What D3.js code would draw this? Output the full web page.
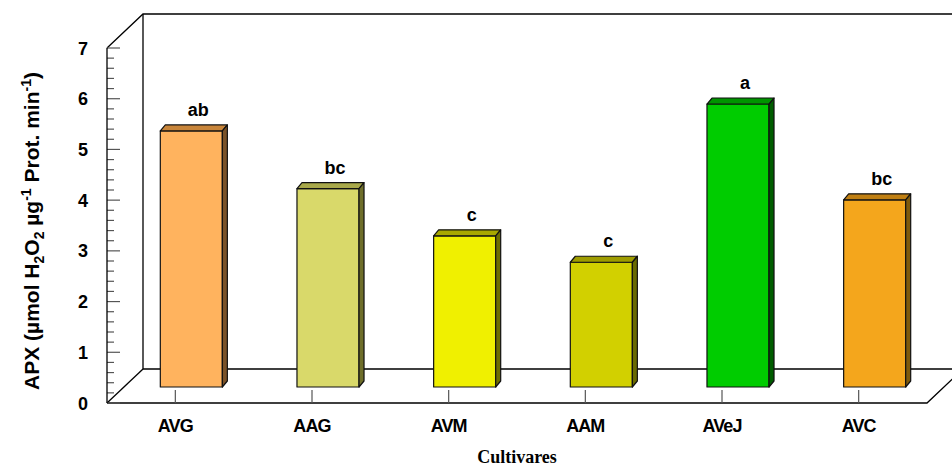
<!DOCTYPE html>
<html>
<head>
<meta charset="utf-8">
<script src="https://cdn.jsdelivr.net/npm/d3@7"></script>
<style>
  body { margin: 0; background: #fff; }
  svg { display: block; }
  text { font-family: "Liberation Sans", Arial, sans-serif; font-weight: bold; fill: #000; }
</style>
</head>
<body>
<div id="chart"></div>
<script>
const cultivares = ["AVG", "AAG", "AVM", "AAM", "AVeJ", "AVC"];
const apx        = [5.05, 3.91, 2.98, 2.46, 5.58, 3.69];
const letras     = ["ab", "bc", "c", "c", "a", "bc"];
const frontColors = ["#FFB35E", "#D9D96A", "#F0F000", "#D2D000", "#00CC00", "#F4A61C"];
const topColors   = ["#C8853A", "#A9A94A", "#A8A800", "#9E9C00", "#009400", "#C07F12"];
const sideColors  = ["#7A5228", "#6E6E2A", "#6E6E00", "#6A6A00", "#005C00", "#7E5A0C"];
const yTicks = [0, 1, 2, 3, 4, 5, 6, 7];

const WIDTH = 952, HEIGHT = 467;
const LEFT = 107, RIGHT = 927, BOTTOM = 403, TOP = 48;
const DX = 36, DY = -34;      // depth of the box
const BDX = 16, BDY = -16;    // bars sit inside the box
const SDX = 5, SDY = -6;      // bar thickness

const svg = d3.select("#chart").append("svg")
  .attr("width", WIDTH)
  .attr("height", HEIGHT);

const x = d3.scaleBand()
  .domain(cultivares)
  .range([LEFT, RIGHT])
  .paddingInner(0.546)
  .paddingOuter(0.273);

const y = d3.scaleLinear()
  .domain([0, 7])
  .range([BOTTOM, TOP]);

// box: back wall + floor
const box = svg.append("g").attr("fill", "none").attr("stroke", "#000").attr("stroke-width", 1.3);
box.append("path")
  .attr("d", `M${LEFT},${y(7)} L${LEFT + DX},${y(7) + DY} L${WIDTH + 2},${y(7) + DY}`);
box.append("path")
  .attr("d", `M${LEFT + DX},${y(7) + DY} L${LEFT + DX},${y(0) + DY} L${WIDTH + 2},${y(0) + DY}`);
box.append("path")
  .attr("d", `M${LEFT},${y(0)} L${LEFT + DX},${y(0) + DY}`);
box.append("path")
  .attr("d", `M${LEFT},${y(0)} L${RIGHT},${y(0)} L${RIGHT + DX},${y(0) + DY}`);

// y axis with minor ticks
const minor = d3.range(0, 7.001, 0.2);
svg.append("g").selectAll("line")
  .data(minor)
  .join("line")
  .attr("x1", LEFT)
  .attr("x2", d => Math.abs(d - Math.round(d)) < 1e-6 ? LEFT + 13 : LEFT + 7)
  .attr("y1", d => y(d))
  .attr("y2", d => y(d))
  .attr("stroke", "#555")
  .attr("stroke-width", 1.2);

svg.append("line")
  .attr("x1", LEFT).attr("x2", LEFT)
  .attr("y1", y(0)).attr("y2", y(7))
  .attr("stroke", "#000").attr("stroke-width", 1.3);

svg.append("g").selectAll("text")
  .data(yTicks)
  .join("text")
  .attr("x", 88)
  .attr("y", d => y(d) + 6.5)
  .attr("text-anchor", "end")
  .style("font-size", "18px")
  .text(d => d);

// category ticks and labels
svg.append("g").selectAll("line")
  .data(cultivares)
  .join("line")
  .attr("x1", d => x(d) + x.bandwidth() / 2)
  .attr("x2", d => x(d) + x.bandwidth() / 2)
  .attr("y1", y(0) - 13)
  .attr("y2", y(0))
  .attr("stroke", "#555")
  .attr("stroke-width", 1.2);

svg.append("g").selectAll("text")
  .data(cultivares)
  .join("text")
  .attr("x", d => x(d) + x.bandwidth() / 2)
  .attr("y", 432)
  .attr("text-anchor", "middle")
  .style("font-size", "18px")
  .style("letter-spacing", "-0.9px")
  .text(d => d);

// bars
const bars = svg.append("g").selectAll("g")
  .data(cultivares.map((c, i) => ({ c, v: apx[i], i })))
  .join("g")
  .attr("stroke", "#111")
  .attr("stroke-width", 1.2)
  .attr("stroke-linejoin", "round");

bars.append("rect")
  .attr("x", d => x(d.c) + BDX)
  .attr("y", d => y(d.v) + BDY)
  .attr("width", x.bandwidth())
  .attr("height", d => y(0) - y(d.v))
  .attr("fill", d => frontColors[d.i]);

bars.append("path")
  .attr("fill", d => topColors[d.i])
  .attr("d", d => {
    const x0 = x(d.c) + BDX, x1 = x0 + x.bandwidth(), yt = y(d.v) + BDY;
    return `M${x0},${yt} L${x0 + SDX},${yt + SDY} L${x1 + SDX},${yt + SDY} L${x1},${yt} Z`;
  });

bars.append("path")
  .attr("fill", d => sideColors[d.i])
  .attr("d", d => {
    const x1 = x(d.c) + BDX + x.bandwidth(), yt = y(d.v) + BDY, yb = y(0) + BDY;
    return `M${x1},${yt} L${x1 + SDX},${yt + SDY} L${x1 + SDX},${yb + SDY} L${x1},${yb} Z`;
  });

// significance letters
svg.append("g").selectAll("text")
  .data(cultivares.map((c, i) => ({ c, v: apx[i], t: letras[i] })))
  .join("text")
  .attr("x", d => x(d.c) + BDX + x.bandwidth() / 2 + 7)
  .attr("y", d => y(d.v) + BDY - 15)
  .attr("text-anchor", "middle")
  .style("font-size", "18px")
  .text(d => d.t);

// axis titles
svg.append("text")
  .attr("x", 517)
  .attr("y", 463)
  .attr("text-anchor", "middle")
  .style("font-family", "'Liberation Serif', 'Times New Roman', serif")
  .style("font-size", "18px")
  .text("Cultivares");

const yTitle = svg.append("text")
  .attr("transform", "translate(39,231) rotate(-90)")
  .attr("text-anchor", "middle")
  .style("font-size", "21px");
yTitle.append("tspan").text("APX (µmol H");
yTitle.append("tspan").attr("dy", 5).style("font-size", "14px").text("2");
yTitle.append("tspan").attr("dy", -5).text("O");
yTitle.append("tspan").attr("dy", 5).style("font-size", "14px").text("2");
yTitle.append("tspan").attr("dy", -5).text(" µg");
yTitle.append("tspan").attr("dy", -8).style("font-size", "14px").text("-1");
yTitle.append("tspan").attr("dy", 8).text(" Prot. min");
yTitle.append("tspan").attr("dy", -8).style("font-size", "14px").text("-1");
yTitle.append("tspan").attr("dy", 8).text(")");
</script>
</body>
</html>
